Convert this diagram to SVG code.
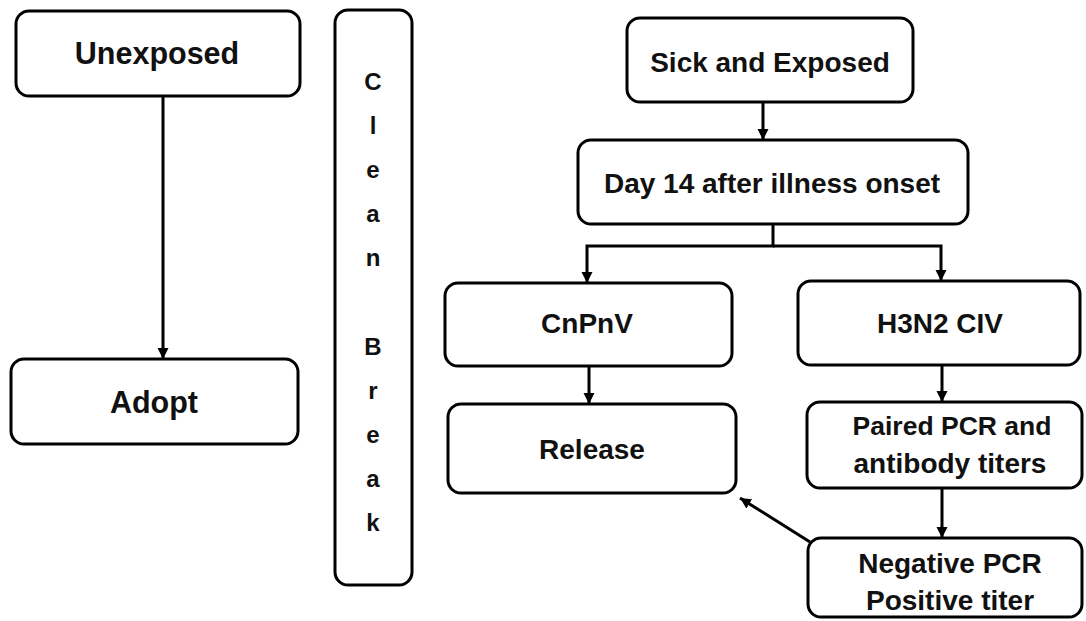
<svg xmlns="http://www.w3.org/2000/svg" width="1086" height="621" viewBox="0 0 1086 621">
<style>
.box{fill:#fff;stroke:#000;stroke-width:3}
.t{font-family:"Liberation Sans",Arial,sans-serif;font-weight:bold;font-size:28px;fill:#111;text-anchor:middle}
.big{font-size:30.5px}
.sm{font-size:26.5px}
.cb{font-size:24px}
.c{fill:none;stroke:#000;stroke-width:3;marker-end:url(#ah)}
</style>
<defs>
<marker id="ah" markerUnits="userSpaceOnUse" markerWidth="12" markerHeight="12" refX="11" refY="6" orient="auto">
<path d="M0,0.5 L11,6 L0,11.5 z" fill="#000"/>
</marker>
</defs>
<rect width="1086" height="621" fill="#fff"/>
<g id="connectors">
<path class="c" d="M163,96 V359"/>
<path class="c" d="M763,102 V140"/>
<path class="c" d="M773,224 V246 H587 V283"/>
<path class="c" d="M773,246 H941 V281"/>
<path class="c" d="M589,366 V404"/>
<path class="c" d="M942,365 V402"/>
<path class="c" d="M942,488 V538"/>
<path class="c" d="M810,542 L740,498"/>
</g>
<g id="unexposed"><rect class="box" x="16" y="11" width="284" height="85" rx="13"/><text class="t big" x="157" y="64">Unexposed</text></g>
<g id="adopt"><rect class="box" x="11" y="359" width="287" height="85" rx="13"/><text class="t big" x="154" y="413">Adopt</text></g>
<g id="cleanbreak"><rect class="box" x="335" y="10" width="77" height="575" rx="13"/>
<text class="t cb" x="373" y="90">C</text>
<text class="t cb" x="373" y="134">l</text>
<text class="t cb" x="373" y="178">e</text>
<text class="t cb" x="373" y="222">a</text>
<text class="t cb" x="373" y="266">n</text>
<text class="t cb" x="373" y="355">B</text>
<text class="t cb" x="373" y="399">r</text>
<text class="t cb" x="373" y="443">e</text>
<text class="t cb" x="373" y="487">a</text>
<text class="t cb" x="373" y="531">k</text>
</g>
<g id="sick"><rect class="box" x="627" y="18" width="286" height="84" rx="13"/><text class="t" x="770" y="72">Sick and Exposed</text></g>
<g id="day14"><rect class="box" x="578" y="140" width="390" height="84" rx="13"/><text class="t" x="772" y="193">Day 14 after illness onset</text></g>
<g id="cnpnv"><rect class="box" x="445" y="283" width="287" height="83" rx="13"/><text class="t" x="587" y="333">CnPnV</text></g>
<g id="release"><rect class="box" x="448" y="404" width="288" height="89" rx="13"/><text class="t" x="592" y="459">Release</text></g>
<g id="h3n2"><rect class="box" x="798" y="281" width="282" height="84" rx="13"/><text class="t" x="940" y="333">H3N2 CIV</text></g>
<g id="paired"><rect class="box" x="807" y="402" width="275" height="86" rx="13"/><text class="t sm" x="952" y="435">Paired PCR and</text><text class="t" x="950" y="473">antibody titers</text></g>
<g id="negative"><rect class="box" x="808" y="538" width="274" height="79" rx="13"/><text class="t" x="950" y="573">Negative PCR</text><text class="t" x="950" y="610">Positive titer</text></g>
</svg>
